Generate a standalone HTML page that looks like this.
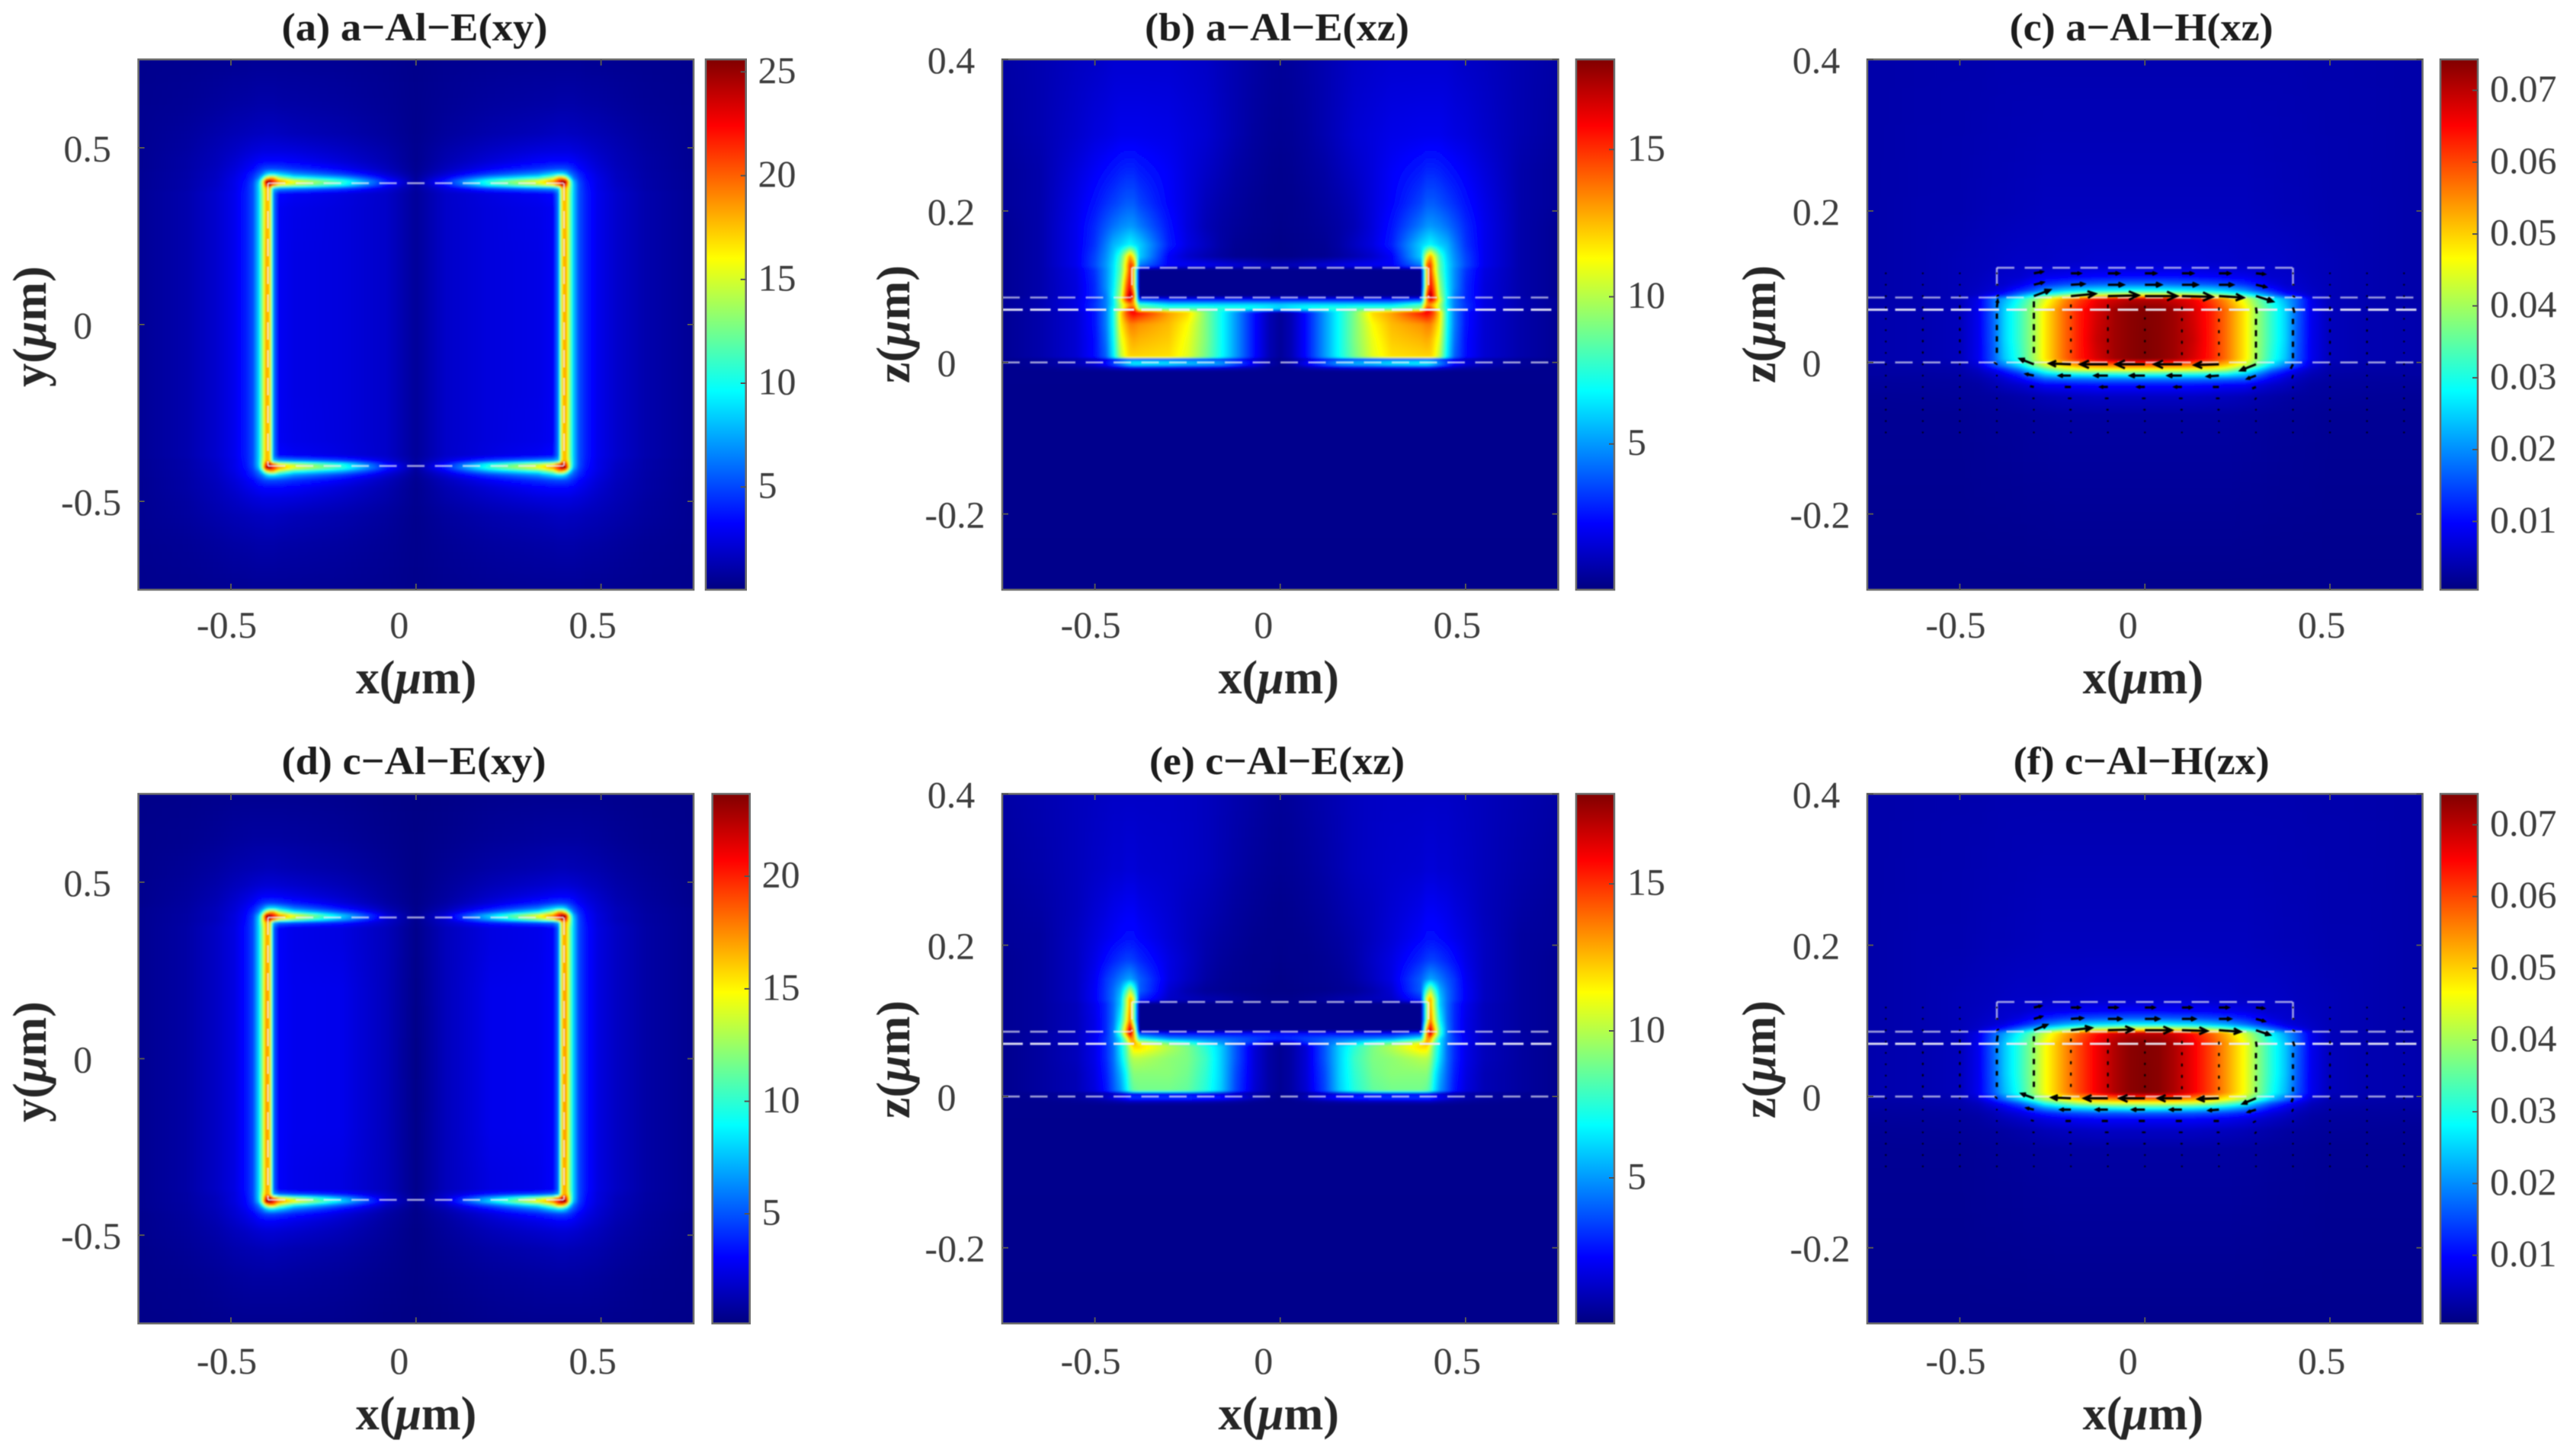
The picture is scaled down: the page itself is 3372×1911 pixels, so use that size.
<!DOCTYPE html>
<html lang="en">
<head>
<meta charset="utf-8">
<title>Field distributions of a-Al and c-Al nanostructures</title>
<style>
html,body{margin:0;padding:0;background:#fff;}
svg{display:block;}
text{font-family:"Liberation Serif","Times New Roman",serif;}
.title{font-weight:bold;font-size:52px;fill:#1c1c1c;text-anchor:middle;}
.axis-title{font-weight:bold;font-size:62px;fill:#262626;text-anchor:middle;}
.axis-title tspan{font-style:italic;}
.tick{font-size:50px;fill:#3c3c3c;}
</style>
</head>
<body>
<svg id="figure" xmlns="http://www.w3.org/2000/svg" width="3372" height="1911" viewBox="0 0 3372 1911">
  <defs id="defs">
    <filter id="blur-field" x="-2%" y="-2%" width="104%" height="104%"><feGaussianBlur stdDeviation="1.2"/></filter>
    <filter id="blur-soft" x="-2%" y="-2%" width="104%" height="104%"><feGaussianBlur stdDeviation="0.8"/></filter>
    <filter id="blur-text" x="-5%" y="-5%" width="110%" height="110%"><feGaussianBlur stdDeviation="0.6"/></filter>
    <linearGradient id="jet-bar" x1="0" y1="1" x2="0" y2="0">
      <stop offset="0" stop-color="#000080"/>
      <stop offset="0.125" stop-color="#0000ff"/>
      <stop offset="0.375" stop-color="#00ffff"/>
      <stop offset="0.625" stop-color="#ffff00"/>
      <stop offset="0.875" stop-color="#ff0000"/>
      <stop offset="1" stop-color="#800000"/>
    </linearGradient>
  </defs>
  <rect x="0" y="0" width="3372" height="1911" fill="#ffffff"/>

  <g id="panel-a"></g>
  <g id="panel-b"></g>
  <g id="panel-c"></g>
  <g id="panel-d"></g>
  <g id="panel-e"></g>
  <g id="panel-f"></g>

  <g filter="url(#blur-text)">
    <text class="title" x="544" y="53" textLength="349" lengthAdjust="spacingAndGlyphs">(a) a−Al−E(xy)</text>
    <text class="title" x="1675.5" y="53" textLength="347" lengthAdjust="spacingAndGlyphs">(b) a−Al−E(xz)</text>
    <text class="title" x="2809.6" y="53" textLength="346" lengthAdjust="spacingAndGlyphs">(c) a−Al−H(xz)</text>
    <text class="title" x="543" y="1016" textLength="347" lengthAdjust="spacingAndGlyphs">(d) c−Al−E(xy)</text>
    <text class="title" x="1675.5" y="1016" textLength="335" lengthAdjust="spacingAndGlyphs">(e) c−Al−E(xz)</text>
    <text class="title" x="2809.6" y="1016" textLength="336" lengthAdjust="spacingAndGlyphs">(f) c−Al−H(zx)</text>

    <text class="axis-title" x="546" y="910">x(<tspan>μ</tspan>m)</text>
    <text class="axis-title" x="1677.7" y="910">x(<tspan>μ</tspan>m)</text>
    <text class="axis-title" x="2811.8" y="910">x(<tspan>μ</tspan>m)</text>
    <text class="axis-title" x="546" y="1876">x(<tspan>μ</tspan>m)</text>
    <text class="axis-title" x="1677.7" y="1876">x(<tspan>μ</tspan>m)</text>
    <text class="axis-title" x="2811.8" y="1876">x(<tspan>μ</tspan>m)</text>

    <text class="axis-title" transform="translate(60,428.6) rotate(-90)">y(<tspan>μ</tspan>m)</text>
    <text class="axis-title" transform="translate(1193,425.6) rotate(-90)">z(<tspan>μ</tspan>m)</text>
    <text class="axis-title" transform="translate(2329,425.6) rotate(-90)">z(<tspan>μ</tspan>m)</text>
    <text class="axis-title" transform="translate(60,1393.6) rotate(-90)">y(<tspan>μ</tspan>m)</text>
    <text class="axis-title" transform="translate(1193,1390.6) rotate(-90)">z(<tspan>μ</tspan>m)</text>
    <text class="axis-title" transform="translate(2329,1390.6) rotate(-90)">z(<tspan>μ</tspan>m)</text>
  </g>
</svg>

<script>
/* ---------- tick values and labels ---------- */
const xTicks = [-0.5, 0, 0.5];
const xTickLabels = ['-0.5', '0', '0.5'];
const yTicksXY = [-0.5, 0, 0.5];
const yTickLabelsXY = ['-0.5', '0', '0.5'];
const zTicksXZ = [-0.2, 0, 0.2, 0.4];
const zTickLabelsXZ = ['-0.2', '0', '0.2', '0.4'];

const cbTicksA = [5, 10, 15, 20, 25];
const cbLabelsA = ['5', '10', '15', '20', '25'];
const cbTicksB = [5, 10, 15];
const cbLabelsB = ['5', '10', '15'];
const cbTicksC = [0.01, 0.02, 0.03, 0.04, 0.05, 0.06, 0.07];
const cbLabelsC = ['0.01', '0.02', '0.03', '0.04', '0.05', '0.06', '0.07'];
const cbTicksD = [5, 10, 15, 20];
const cbLabelsD = ['5', '10', '15', '20'];
const cbTicksE = [5, 10, 15];
const cbLabelsE = ['5', '10', '15'];
const cbTicksF = [0.01, 0.02, 0.03, 0.04, 0.05, 0.06, 0.07];
const cbLabelsF = ['0.01', '0.02', '0.03', '0.04', '0.05', '0.06', '0.07'];

const rangeA = [0.05, 25.6];
const rangeB = [0.05, 18.06];
const rangeC = [0.0005, 0.0743];
const rangeD = [0.13, 23.66];
const rangeE = [0.05, 18.06];
const rangeF = [0.0005, 0.0743];

/* ---------- xy heat maps: x <= 0 columns and y >= 0 rows ---------- */
const heatXYcols = [-0.75,-0.62,-0.54,-0.49,-0.46,-0.44,-0.425,-0.415,-0.405,-0.395,-0.385,-0.37,-0.33,-0.2,-0.08,0];
const heatXYrows = [0.75,0.62,0.54,0.49,0.46,0.44,0.425,0.415,0.405,0.395,0.385,0.37,0.33,0.2,0];

const heatA = [
[.4,.45,.5,.55,.55,.6,.6,.6,.6,.6,.6,.6,.6,.55,.45,.35],
[.45,.6,.8,.95,1,1.05,1.1,1.1,1.1,1.1,1.1,1.05,1,.85,.6,.4],
[.5,.8,1.15,1.4,1.5,1.6,1.65,1.65,1.7,1.7,1.7,1.65,1.5,1.2,.8,.4],
[.5,.9,1.4,1.8,2.1,2.3,2.4,2.5,2.5,2.5,2.5,2.5,2.4,1.8,1.1,.45],
[.5,1,1.5,2.1,2.6,2.9,3.2,3.3,3.4,3.4,3.4,3.4,3.2,2.3,1.3,.45],
[.5,1,1.6,2.3,2.9,3.4,4.2,4.7,5,5.1,5.1,5,4.5,3.1,1.6,.5],
[.55,1.05,1.7,2.5,3.3,4.2,5.5,6.5,8.5,9.5,9.5,8.8,7,4.8,2.2,.6],
[.55,1.05,1.7,2.6,3.4,4.6,6.3,9.5,15,18,18,14,10.5,7.5,3,.7],
[.55,1.1,1.8,2.7,3.6,5,8,14,25,25.5,22,19,16,11,4,.8],
[.55,1.1,1.8,2.7,3.7,5.2,8.5,14,22,25,20,16,14,10,3.6,.8],
[.55,1.1,1.9,2.7,3.8,5.2,8.5,13.5,18,17,8,7,6.5,4.8,2.4,.8],
[.6,1.2,2,2.8,3.9,5.2,8.5,13,18,17,6.5,3.4,3,2.5,1.9,.7],
[.6,1.2,2,2.8,3.9,5.2,8.5,13,18,17,6.5,3,2.7,2.4,1.9,.7],
[.6,1.2,2,2.8,3.9,5.2,8.5,13,18.5,17,6.5,3,2.6,2.4,1.9,.7],
[.6,1.2,2,2.8,3.9,5.2,8.5,13,18.5,17,6.5,3,2.6,2.4,1.9,.7]
];

const heatD = [
[.35,.4,.45,.5,.5,.5,.5,.5,.5,.5,.5,.5,.5,.45,.3,.25],
[.4,.5,.65,.8,.85,.9,.9,.9,.9,.9,.9,.9,.85,.7,.45,.3],
[.4,.65,.9,1.15,1.25,1.3,1.35,1.35,1.4,1.4,1.4,1.35,1.25,1,.6,.3],
[.45,.75,1.1,1.5,1.7,1.9,2,2.05,2.1,2.1,2.1,2.05,1.9,1.4,.75,.3],
[.45,.8,1.25,1.8,2.2,2.5,2.8,2.9,3,3,3,2.9,2.6,1.8,.85,.35],
[.45,.85,1.35,2,2.5,3,3.7,4.2,4.5,4.6,4.6,4.4,3.7,2.3,1,.35],
[.5,.9,1.45,2.1,2.8,3.7,5,6,7.8,8.8,8.8,8,6,3.4,1.3,.4],
[.5,.9,1.5,2.2,3,4.1,5.8,9,14,17,17,13,9,5,1.7,.45],
[.5,.95,1.5,2.3,3.1,4.5,7.5,13,23,23.5,21,18,15,8,2.2,.5],
[.5,.95,1.5,2.3,3.2,4.6,8,13.5,21,23,19,15,12.5,7,2,.5],
[.5,.95,1.6,2.3,3.3,4.7,8,13,17,16,7,5.5,4.8,3.6,1.8,.45],
[.5,1,1.7,2.4,3.4,4.7,8,12,17,16,5.5,3,2.6,2.4,1.5,.4],
[.5,1,1.7,2.4,3.4,4.7,8,12,17,16,5.5,3,2.6,2.4,1.5,.4],
[.5,1,1.7,2.4,3.4,4.7,8,12,17.5,16,5.5,3,2.7,2.6,1.5,.35],
[.5,1,1.7,2.4,3.4,4.7,8,12,17.5,16,5.5,3,2.7,2.6,1.5,.3]
];

/* ---------- xz electric-field heat maps ---------- */
const heatEcols = [-0.75,-0.65,-0.55,-0.5,-0.47,-0.45,-0.43,-0.415,-0.405,-0.395,-0.38,-0.3,-0.25,-0.2,-0.16,-0.12,-0.07,-0.03,0];
const heatErows = [0.4,0.3,0.25,0.21,0.18,0.155,0.14,0.128,0.122,0.1,0.088,0.083,0.076,0.071,0.066,0.05,0.03,0.007,0.0045,0.001,-0.003,-0.007,-0.012,-0.3];

const heatB = [
[.7,.9,1.2,1.3,1.4,1.5,1.5,1.5,1.5,1.5,1.5,1.5,1.4,1.3,1.1,.9,.7,.55,.5],
[.6,.9,1.4,1.7,1.8,1.9,2,2,2,2,2,1.9,1.7,1.5,1.2,.9,.6,.45,.4],
[.5,.8,1.7,2.2,2.5,2.7,2.9,3,3,3,2.8,2.2,1.7,1.3,1,.7,.5,.35,.3],
[.5,.8,1.9,2.6,3.1,3.4,3.7,3.9,3.9,3.9,3.5,2.3,1.7,1.1,.8,.6,.4,.3,.3],
[.4,.8,2,3,3.8,4.3,4.7,4.9,5,4.9,4.5,2.6,1.7,1,.7,.5,.35,.3,.25],
[.4,.8,2,3.2,4.5,5.5,6,6.5,6.8,6.5,6,2.8,1.8,1.2,.7,.4,.3,.25,.2],
[.4,.8,2,3.5,4.8,6,8,11,13,11,6,2.2,1.4,.9,.6,.35,.3,.2,.2],
[.4,.8,2,3.6,5,6.3,8.5,12,15,14,4.5,2.2,2.1,2,1.8,1.6,1.3,1.1,1],
[.4,.8,1.8,3.2,4.8,6.3,8.5,12,15,12,.3,.3,.3,.3,.3,.3,.3,.3,.3],
[.4,.8,1.7,3,4.8,6.5,9.5,14,16,12,.3,.3,.3,.3,.3,.3,.3,.3,.3],
[.4,.8,1.7,3,4.5,6.8,10,15,17.5,15,.3,.3,.3,.3,.3,.3,.3,.3,.3],
[.5,.9,1.8,3,4.5,6.5,11,15,16.5,13,3.2,2.6,2.6,2.6,2.6,2.6,2.6,2.6,2.6],
[.5,.9,1.8,3.2,4.5,6.5,10,12,13,13,8,6.3,6.3,6.3,6.3,6.3,6.3,6.2,6],
[.5,.9,1.8,3.2,4.5,7,10,13,15,15,9,8,8,8,7.5,7.5,7,6.5,6],
[.4,.8,1.5,2.6,4.5,7,12,14.5,15.5,16,15.5,13,12,9,7,5,2.5,1,.5],
[.4,.8,1.5,2.6,4.5,7,11.5,12.8,13.5,13.5,13.2,12.5,11.3,9,7,5,2.5,1,.5],
[.4,.8,1.5,2.5,4.3,6.8,10.8,12,12.6,12.8,12.6,12.2,11,9,7,5,2.5,1,.5],
[.4,.8,1.5,2.5,4,6.5,10,11.5,12,12,12,11.8,10.8,8.8,7,5,2.5,1,.5],
[.3,.5,.9,1.3,1.8,2.4,3,3.2,3.2,3.2,3,3,3,3,2.8,2.4,1.4,.6,.3],
[.3,.5,1,1.6,2.4,3.4,4.5,5.5,6,6.3,6.3,6,5.5,5.2,4.8,3.6,2,.8,.4],
[.3,.5,1,1.6,2.4,3.4,4.5,5.5,6,6.3,6.3,6,5.5,5.2,4.8,3.6,2,.8,.4],
[.3,.4,.6,.8,1,1.3,1.6,1.8,2,2,2,1.9,1.8,1.7,1.5,1.2,.8,.4,.3],
[.3,.3,.3,.3,.3,.3,.3,.3,.3,.3,.3,.3,.3,.3,.3,.3,.3,.3,.3],
[.25,.25,.25,.25,.25,.25,.25,.25,.25,.25,.25,.25,.25,.25,.25,.25,.25,.25,.25]
];

const heatE = [
[.7,.9,1.1,1.2,1.25,1.3,1.3,1.3,1.3,1.3,1.3,1.3,1.25,1.15,1,.85,.7,.55,.5],
[.6,.8,1.1,1.3,1.4,1.5,1.5,1.6,1.6,1.6,1.5,1.4,1.3,1.15,.95,.75,.55,.45,.4],
[.5,.7,1.1,1.5,1.7,1.9,2,2.1,2.1,2.1,1.9,1.5,1.2,1,.8,.6,.45,.35,.3],
[.5,.6,1.2,1.7,2,2.2,2.4,2.5,2.5,2.5,2.3,1.6,1.2,.85,.65,.5,.35,.3,.3],
[.4,.6,1.2,1.9,2.5,2.9,3.2,3.4,3.4,3.3,3,1.8,1.3,.8,.55,.4,.3,.3,.25],
[.4,.6,1.2,2.1,3.2,3.8,4.5,5,5.2,4.8,4,1.8,1.2,.7,.45,.35,.3,.25,.2],
[.4,.6,1.2,2.2,3.3,4.2,5.5,8,10,8,4,1.5,.9,.5,.4,.3,.25,.2,.2],
[.4,.6,1.2,2.2,3.3,4.3,6,10,13,11,3,1.3,1.1,.9,.8,.6,.4,.3,.3],
[.4,.6,1.1,2,3,4.2,6,10,13,9,.3,.3,.3,.3,.3,.3,.3,.3,.3],
[.4,.6,1.1,1.9,3,4.3,7,11,14,9,.3,.3,.3,.3,.3,.3,.3,.3,.3],
[.4,.6,1.1,1.9,3,4.5,8,13,17,13,.3,.3,.3,.3,.3,.3,.3,.3,.3],
[.4,.7,1.2,2,3,4.5,8,13,17,13,3.5,2.5,2.5,2.5,2.5,2.5,2.5,2.5,2.5],
[.4,.7,1.2,2.1,3.2,4.4,6.5,10,13,13,7,5,4.7,4.5,4.3,4,3.5,3.2,3],
[.4,.7,1.2,2.1,3.2,4.4,6.5,9,12,13,11,8.5,7.5,6,5,4,3,1.5,1],
[.3,.6,1.1,1.9,3,4.2,6.5,8.5,10.5,12,12,10,9,7.5,6,3.8,1.6,.7,.4],
[.3,.6,1.1,1.9,3,4.2,6.2,8,9.5,10,10,9.3,9,7.8,6,3.8,1.6,.7,.4],
[.3,.6,1,1.8,2.8,4,5.5,7,8.5,9.2,9.2,9.2,8.8,7.6,6,3.6,1.6,.7,.4],
[.3,.6,1,1.7,2.6,3.8,5,6.5,7.8,8.5,8.8,8.8,8.5,7.4,5.9,3.5,1.5,.7,.4],
[.3,.4,.6,.8,1,1.2,1.4,1.5,1.5,1.5,1.5,1.5,1.5,1.5,1.4,1.2,.7,.4,.3],
[.3,.4,.6,.9,1.2,1.6,2,2.5,2.9,3,3,3,2.9,2.7,2.4,1.8,1,.5,.3],
[.3,.4,.6,.9,1.2,1.6,2,2.5,2.9,3,3,3,2.9,2.7,2.4,1.8,1,.5,.3],
[.3,.3,.4,.5,.6,.7,.8,.9,1,1,1,.9,.9,.8,.7,.6,.4,.3,.3],
[.3,.3,.3,.3,.3,.3,.3,.3,.3,.3,.3,.3,.3,.3,.3,.3,.3,.3,.3],
[.25,.25,.25,.25,.25,.25,.25,.25,.25,.25,.25,.25,.25,.25,.25,.25,.25,.25,.25]
];

/* ---------- xz magnetic-field heat maps ---------- */
const heatHcols = [-0.75,-0.6,-0.5,-0.45,-0.41,-0.38,-0.34,-0.3,-0.27,-0.22,-0.18,-0.13,-0.08,-0.04,0];
const heatHrows = [0.4,0.2,0.135,0.125,0.113,0.103,0.095,0.089,0.084,0.07,0.03,0.005,-0.004,-0.009,-0.015,-0.022,-0.03,-0.045,-0.07,-0.3];

const heatC = [
[.0035,.0037,.0038,.0038,.0039,.004,.004,.004,.004,.004,.004,.004,.004,.004,.004],
[.0035,.004,.004,.0043,.0045,.0045,.0047,.0048,.005,.005,.005,.005,.005,.005,.005],
[.0035,.004,.0045,.0048,.005,.0053,.0055,.0055,.0055,.0058,.0058,.006,.006,.006,.006],
[.0035,.004,.0045,.0048,.0052,.0055,.0058,.006,.0062,.0065,.0068,.007,.007,.007,.007],
[.0035,.004,.0045,.005,.0056,.006,.0062,.0075,.0085,.009,.0095,.01,.0105,.0105,.0105],
[.0035,.004,.0045,.0052,.006,.0062,.008,.011,.013,.015,.016,.017,.0175,.018,.018],
[.0035,.004,.0045,.0055,.0065,.008,.012,.016,.02,.024,.026,.027,.028,.029,.029],
[.0035,.004,.0045,.0058,.009,.012,.019,.026,.031,.036,.04,.043,.045,.046,.046],
[.0035,.004,.0047,.008,.017,.022,.029,.037,.044,.054,.06,.066,.068,.07,.07],
[.0038,.004,.0047,.0085,.017,.025,.032,.04,.048,.057,.063,.068,.072,.0735,.074],
[.0038,.004,.0047,.0085,.0165,.025,.032,.04,.048,.057,.063,.069,.072,.0735,.0743],
[.0038,.004,.0047,.0085,.016,.024,.031,.04,.048,.057,.063,.068,.072,.0735,.0743],
[.0032,.0036,.004,.007,.014,.019,.026,.036,.043,.05,.054,.056,.057,.058,.058],
[.003,.0033,.0036,.0055,.009,.013,.019,.028,.034,.042,.045,.046,.047,.047,.047],
[.003,.003,.0033,.0045,.0065,.009,.013,.02,.025,.029,.03,.031,.031,.032,.032],
[.0027,.0028,.003,.0037,.005,.0065,.009,.013,.016,.017,.0175,.018,.018,.018,.018],
[.0025,.0026,.0027,.003,.004,.005,.006,.0075,.009,.0095,.01,.0105,.0105,.0105,.0105],
[.0022,.0023,.0024,.0026,.0028,.003,.0035,.004,.0045,.005,.0052,.0055,.0055,.0055,.0055],
[.002,.002,.002,.0022,.0023,.0024,.0025,.0027,.0028,.003,.003,.003,.003,.003,.003],
[.0015,.0015,.0015,.0015,.0015,.0015,.0015,.0015,.0015,.0015,.0015,.0015,.0015,.0015,.0015]
];

const heatF = [
[.0035,.0037,.0038,.0038,.0039,.004,.004,.004,.004,.004,.004,.004,.004,.004,.004],
[.0035,.004,.004,.0043,.0045,.0045,.0047,.0048,.005,.005,.005,.005,.005,.005,.005],
[.0035,.004,.0045,.0048,.005,.0053,.0055,.0055,.0055,.0058,.0058,.006,.006,.006,.006],
[.0035,.004,.0045,.0048,.0052,.0055,.0058,.006,.006,.0062,.0064,.0066,.0066,.0066,.0066],
[.0035,.004,.0045,.005,.0055,.006,.006,.007,.0078,.0085,.009,.0092,.0095,.0095,.0095],
[.0035,.004,.0045,.0052,.006,.0062,.0075,.01,.012,.014,.015,.016,.0165,.017,.017],
[.0035,.004,.0045,.0055,.0065,.0078,.011,.015,.018,.022,.024,.026,.027,.028,.028],
[.0035,.004,.0045,.0058,.009,.012,.018,.024,.029,.035,.039,.042,.044,.046,.046],
[.0035,.004,.0047,.008,.016,.021,.028,.036,.043,.052,.058,.064,.068,.07,.07],
[.0038,.004,.0047,.0085,.017,.024,.031,.039,.046,.054,.06,.066,.071,.0735,.074],
[.0038,.004,.0047,.0085,.0165,.024,.031,.039,.046,.054,.06,.066,.071,.0735,.0743],
[.0038,.004,.0047,.0085,.016,.023,.03,.039,.046,.054,.06,.066,.071,.0735,.0743],
[.0032,.0036,.004,.0065,.012,.017,.024,.033,.04,.046,.05,.053,.055,.056,.056],
[.003,.0033,.0036,.005,.008,.011,.016,.023,.03,.036,.04,.043,.044,.044,.044],
[.003,.003,.0033,.0042,.006,.008,.011,.016,.02,.024,.026,.028,.029,.03,.03],
[.0027,.0028,.003,.0035,.0045,.006,.0075,.01,.012,.014,.015,.016,.016,.0165,.0165],
[.0025,.0026,.0027,.003,.0038,.0045,.0055,.0065,.0075,.0085,.009,.0095,.0095,.0095,.0095],
[.0022,.0023,.0024,.0026,.0028,.003,.0035,.004,.0045,.005,.0052,.0055,.0055,.0055,.0055],
[.002,.002,.002,.0022,.0023,.0024,.0025,.0027,.0028,.003,.003,.003,.003,.003,.003],
[.0015,.0015,.0015,.0015,.0015,.0015,.0015,.0015,.0015,.0015,.0015,.0015,.0015,.0015,.0015]
];

/* ---------- quiver fields (arrow components, rows from top) ---------- */
const quiverX = [-0.7,-0.6,-0.5,-0.4,-0.3,-0.2,-0.1,0,0.1,0.2,0.3,0.4,0.5,0.6,0.7];
const quiverZ = [0.1176,0.1026,0.0876,0.0726,0.0576,0.0426,0.0276,0.0126,-0.0024,-0.0174,-0.0324,-0.0474,-0.0624,-0.0774,-0.0924];

const quiverUc = [
[0,0,0,0,11,12,14,14,14,14,11,0,0,0,0],
[0,0,0,1,12,17,20,21,20,18,13,1,0,0,0],
[0,0,0,2,21,32,40,42,40,32,22,2,0,0,0],
[0,0,0,1,0,0,0,0,0,0,1,2,0,0,0],
[0,0,0,0,0,0,0,0,0,0,0,0,0,0,0],
[0,0,0,0,0,0,0,0,0,0,0,0,0,0,0],
[0,0,0,0,0,0,0,0,0,0,0,0,0,0,0],
[0,0,0,0,0,0,0,0,0,0,0,0,0,0,0],
[0,0,0,-3,-18,-28,-36,-38,-36,-32,-20,-3,0,0,0],
[0,0,0,0,-10,-15,-17,-19,-18,-15,-11,-1,0,0,0],
[0,0,0,0,-5,-8,-9,-9,-9,-8,-5,0,0,0,0],
[0,0,0,0,-1,-3,-3,-3,-3,-3,-1,0,0,0,0],
[0,0,0,0,0,-1,-1,-1,-1,-1,0,0,0,0,0],
[0,0,0,0,0,0,0,0,0,0,0,0,0,0,0],
[0,0,0,0,0,0,0,0,0,0,0,0,0,0,0]
];
const quiverWc = [
[0,0,0,0,2,0,0,0,0,0,-1,0,0,0,0],
[0,0,0,0,3,1,0,0,0,0,-3,0,0,0,0],
[0,0,0,1,8,3,1,0,-1,-2,-7,-1,0,0,0],
[0,0,2,9,8,4,3,1,-2,-4,-8,-7,-2,0,0],
[0,1,2,7,8,4,3,1,-2,-4,-8,-7,-2,-1,0],
[0,1,2,7,8,4,3,1,-2,-4,-8,-7,-2,-1,0],
[0,1,2,7,8,4,3,1,-2,-4,-8,-7,-2,-1,0],
[0,1,2,7,8,4,3,1,-2,-4,-8,-7,-2,-1,0],
[0,0,0,2,7,1,0,0,0,-1,-8,-6,0,0,0],
[0,0,0,0,2,0,0,0,0,-1,-4,-3,0,0,0],
[0,0,0,0,1,0,0,0,0,0,-2,-1,0,0,0],
[0,0,0,0,0,0,0,0,0,0,-1,0,0,0,0],
[0,0,0,0,0,0,0,0,0,0,0,0,0,0,0],
[0,0,0,0,0,0,0,0,0,0,0,0,0,0,0],
[0,0,0,0,0,0,0,0,0,0,0,0,0,0,0]
];
const quiverUf = [
[0,0,0,0,9,11,12,12,12,12,10,0,0,0,0],
[0,0,0,1,10,15,17,18,17,15,11,1,0,0,0],
[0,0,0,2,17,27,33,35,33,28,18,2,0,0,0],
[0,0,0,1,0,0,0,0,0,0,1,2,0,0,0],
[0,0,0,0,0,0,0,0,0,0,0,0,0,0,0],
[0,0,0,0,0,0,0,0,0,0,0,0,0,0,0],
[0,0,0,0,0,0,0,0,0,0,0,0,0,0,0],
[0,0,0,0,0,0,0,0,0,0,0,0,0,0,0],
[0,0,0,-2,-16,-25,-31,-33,-31,-27,-17,-2,0,0,0],
[0,0,0,0,-9,-13,-15,-16,-15,-13,-10,-1,0,0,0],
[0,0,0,0,-4,-7,-8,-8,-8,-7,-4,0,0,0,0],
[0,0,0,0,-1,-2,-3,-3,-3,-2,-1,0,0,0,0],
[0,0,0,0,0,-1,-1,-1,-1,-1,0,0,0,0,0],
[0,0,0,0,0,0,0,0,0,0,0,0,0,0,0],
[0,0,0,0,0,0,0,0,0,0,0,0,0,0,0]
];
const quiverWf = [
[0,0,0,0,2,0,0,0,0,0,-1,0,0,0,0],
[0,0,0,0,3,1,0,0,0,0,-3,0,0,0,0],
[0,0,0,1,7,3,1,0,-1,-2,-6,-1,0,0,0],
[0,0,2,8,7,4,3,1,-2,-4,-7,-6,-2,0,0],
[0,1,2,6,7,4,3,1,-2,-4,-7,-6,-2,-1,0],
[0,1,2,6,7,4,3,1,-2,-4,-7,-6,-2,-1,0],
[0,1,2,6,7,4,3,1,-2,-4,-7,-6,-2,-1,0],
[0,1,2,6,7,4,3,1,-2,-4,-7,-6,-2,-1,0],
[0,0,0,2,6,1,0,0,0,-1,-7,-5,0,0,0],
[0,0,0,0,2,0,0,0,0,-1,-3,-2,0,0,0],
[0,0,0,0,1,0,0,0,0,0,-2,-1,0,0,0],
[0,0,0,0,0,0,0,0,0,0,-1,0,0,0,0],
[0,0,0,0,0,0,0,0,0,0,0,0,0,0,0],
[0,0,0,0,0,0,0,0,0,0,0,0,0,0,0],
[0,0,0,0,0,0,0,0,0,0,0,0,0,0,0]
];

/* ---------- structure outlines, in micrometres ---------- */
const interfaceZ = [0.0857, 0.0696, 0];
const antennaZ = [0.125, 0.0857];
const antennaX = [-0.4, 0.4];
const squareXY = [-0.4, 0.4];

/* ---------- rendering ---------- */
const SVGNS = 'http://www.w3.org/2000/svg';
const defs = document.getElementById('defs');
const STRIP = 2;
let gradientCount = 0;

function clamp01(v) { return Math.max(0, Math.min(1, v)); }
function jet(t) {
  const r = clamp01(1.5 - Math.abs(4 * t - 3));
  const g = clamp01(1.5 - Math.abs(4 * t - 2));
  const b = clamp01(1.5 - Math.abs(4 * t - 1));
  return 'rgb(' + Math.round(r * 255) + ',' + Math.round(g * 255) + ',' + Math.round(b * 255) + ')';
}
const JET_KNOTS = [0.125, 0.375, 0.625, 0.875];

function mirrorX(half) { return half.concat(half.slice(0, -1).reverse().map(function (v) { return -v; })); }
function mirrorRow(half) { return half.concat(half.slice(0, -1).reverse()); }
function mirrorY(half) { return half.concat(half.slice(0, -1).reverse().map(function (v) { return -v; })); }
function mirrorRows(rows) { return rows.concat(rows.slice(0, -1).reverse()); }

function makeAxis(domainLo, domainHi, pxLo, pxHi) {
  const f = function (v) { return pxLo + (v - domainLo) / (domainHi - domainLo) * (pxHi - pxLo); };
  f.inv = function (p) { return domainLo + (p - pxLo) / (pxHi - pxLo) * (domainHi - domainLo); };
  return f;
}

function drawHeat(group, box, xs, ys, rows, range, xS, yS) {
  const span = box.R - box.L;
  const offs = xs.map(function (x) { return (xS(x) - box.L) / span; });
  for (let py = box.T; py < box.B; py += STRIP) {
    const yv = yS.inv(py + STRIP / 2);
    let k = 0;
    while (k < ys.length - 2 && yv < ys[k + 1]) k++;
    const f = clamp01((ys[k] - yv) / (ys[k] - ys[k + 1]));
    const ts = rows[k].map(function (v, j) {
      const val = v + (rows[k + 1][j] - v) * f;
      return clamp01((val - range[0]) / (range[1] - range[0]));
    });
    const id = 'heat-strip-' + (gradientCount++);
    const grad = document.createElementNS(SVGNS, 'linearGradient');
    grad.setAttribute('id', id);
    grad.setAttribute('gradientUnits', 'userSpaceOnUse');
    grad.setAttribute('x1', box.L);
    grad.setAttribute('x2', box.R);
    grad.setAttribute('y1', 0);
    grad.setAttribute('y2', 0);
    const addStop = function (o, t) {
      const s = document.createElementNS(SVGNS, 'stop');
      s.setAttribute('offset', o.toFixed(5));
      s.setAttribute('stop-color', jet(t));
      grad.appendChild(s);
    };
    for (let j = 0; j < ts.length; j++) {
      addStop(offs[j], ts[j]);
      if (j < ts.length - 1) {
        const a = ts[j], b = ts[j + 1];
        const knots = a < b ? JET_KNOTS : JET_KNOTS.slice().reverse();
        knots.forEach(function (kn) {
          if ((kn > a && kn < b) || (kn < a && kn > b)) {
            addStop(offs[j] + (offs[j + 1] - offs[j]) * (kn - a) / (b - a), kn);
          }
        });
      }
    }
    defs.appendChild(grad);
    const strip = document.createElementNS(SVGNS, 'rect');
    
    
    strip.setAttribute('x', box.L);
    strip.setAttribute('y', py);
    strip.setAttribute('width', span);
    strip.setAttribute('height', STRIP + 0.4);
    strip.setAttribute('fill', 'url(#' + id + ')');
    group.appendChild(strip);
  }
}

function addTick(group, x1, y1, x2, y2) {
  const el = document.createElementNS(SVGNS, 'line');
  
  
  el.setAttribute('x1', x1);
  el.setAttribute('y1', y1);
  el.setAttribute('x2', x2);
  el.setAttribute('y2', y2);
  el.setAttribute('stroke', '#555555');
  el.setAttribute('stroke-width', 2);
  group.appendChild(el);
}

function addLabel(group, x, y, str, anchor) {
  const el = document.createElementNS(SVGNS, 'text');
  
  
  el.setAttribute('class', 'tick');
  el.setAttribute('x', x);
  el.setAttribute('y', y);
  el.setAttribute('text-anchor', anchor);
  el.setAttribute('filter', 'url(#blur-text)');
  el.textContent = str;
  group.appendChild(el);
}

function addDash(group, x1, y1, x2, y2, strong) {
  const el = document.createElementNS(SVGNS, 'line');
  
  
  el.setAttribute('x1', x1);
  el.setAttribute('y1', y1);
  el.setAttribute('x2', x2);
  el.setAttribute('y2', y2);
  el.setAttribute('stroke', '#eeeef8');
  el.setAttribute('stroke-opacity', strong ? 0.9 : 0.66);
  el.setAttribute('stroke-width', strong ? 3 : 2.6);
  el.setAttribute('stroke-dasharray', strong ? '27 9.5' : '23 13.5');
  group.appendChild(el);
}

function drawQuiver(group, U, W, xS, yS) {
  quiverZ.forEach(function (z, r) {
    quiverX.forEach(function (x, c) {
      const x0 = xS(x), y0 = yS(z);
      const dx = U[r][c], dy = -W[r][c];
      const len = Math.hypot(dx, dy);
      const x1 = x0 + dx, y1 = y0 + dy;
      let d = 'M' + x0 + ' ' + y0 + 'L' + x1 + ' ' + y1;
      if (len >= 9) {
        const bar = Math.max(3.5, 0.34 * len);
        const ang = Math.atan2(dy, dx);
        const a1 = ang + Math.PI - 0.42, a2 = ang + Math.PI + 0.42;
        d += 'M' + (x1 + bar * Math.cos(a1)) + ' ' + (y1 + bar * Math.sin(a1)) + 'L' + x1 + ' ' + y1 +
             'L' + (x1 + bar * Math.cos(a2)) + ' ' + (y1 + bar * Math.sin(a2));
      }
      const el = document.createElementNS(SVGNS, 'path');
      
      
      el.setAttribute('d', d);
      el.setAttribute('fill', 'none');
      el.setAttribute('stroke', '#000000');
      el.setAttribute('stroke-width', len >= 5 ? 3 : 2.2);
      el.setAttribute('stroke-linecap', len >= 4 ? 'butt' : 'round');
      group.appendChild(el);
    });
  });
}

function drawPanel(opt) {
  const root = document.getElementById(opt.id);
  const box = opt.box, cb = opt.cb;
  const xS = makeAxis(-0.75, 0.75, box.L, box.R);
  const yS = makeAxis(opt.yDomain[1], opt.yDomain[0], box.T, box.B);

  const clip = document.createElementNS(SVGNS, 'clipPath');
  clip.setAttribute('id', 'clip-' + opt.id);
  const clipRect = document.createElementNS(SVGNS, 'rect');
  clipRect.setAttribute('x', box.L);
  clipRect.setAttribute('y', box.T);
  clipRect.setAttribute('width', box.R - box.L);
  clipRect.setAttribute('height', box.B - box.T);
  clip.appendChild(clipRect);
  defs.appendChild(clip);

  const plot = document.createElementNS(SVGNS, 'g');
  
  
  plot.setAttribute('clip-path', 'url(#clip-' + opt.id + ')');
  root.appendChild(plot);

  const backing = document.createElementNS(SVGNS, 'rect');
  
  
  backing.setAttribute('x', box.L);
  backing.setAttribute('y', box.T);
  backing.setAttribute('width', box.R - box.L);
  backing.setAttribute('height', box.B - box.T);
  backing.setAttribute('fill', '#00009a');
  plot.appendChild(backing);

  const field = document.createElementNS(SVGNS, 'g');
  
  
  field.setAttribute('filter', 'url(#blur-field)');
  plot.appendChild(field);
  drawHeat(field, box, opt.xs, opt.ys, opt.rows, opt.range, xS, yS);

  const overlay = document.createElementNS(SVGNS, 'g');
  
  
  overlay.setAttribute('filter', 'url(#blur-soft)');
  plot.appendChild(overlay);

  if (opt.kind === 'xy') {
    addDash(overlay, xS(squareXY[0]), yS(squareXY[1]), xS(squareXY[1]), yS(squareXY[1]), false);
    addDash(overlay, xS(squareXY[0]), yS(squareXY[0]), xS(squareXY[1]), yS(squareXY[0]), false);
    addDash(overlay, xS(squareXY[0]), yS(squareXY[1]), xS(squareXY[0]), yS(squareXY[0]), false);
    addDash(overlay, xS(squareXY[1]), yS(squareXY[1]), xS(squareXY[1]), yS(squareXY[0]), false);
  } else {
    addDash(overlay, xS(antennaX[0]), yS(antennaZ[0]), xS(antennaX[1]), yS(antennaZ[0]), false);
    addDash(overlay, xS(antennaX[0]), yS(antennaZ[0]), xS(antennaX[0]), yS(antennaZ[1]), false);
    addDash(overlay, xS(antennaX[1]), yS(antennaZ[0]), xS(antennaX[1]), yS(antennaZ[1]), false);
    interfaceZ.forEach(function (z, i) {
      addDash(overlay, xS(-0.75), yS(z), xS(0.75), yS(z), i === 1);
    });
  }

  if (opt.quiverU) {
    const arrows = document.createElementNS(SVGNS, 'g');
    
    
    arrows.setAttribute('filter', 'url(#blur-soft)');
    plot.appendChild(arrows);
    drawQuiver(arrows, opt.quiverU, opt.quiverW, xS, yS);
  }

  const frame = document.createElementNS(SVGNS, 'rect');
  
  
  frame.setAttribute('x', box.L);
  frame.setAttribute('y', box.T);
  frame.setAttribute('width', box.R - box.L);
  frame.setAttribute('height', box.B - box.T);
  frame.setAttribute('fill', 'none');
  frame.setAttribute('stroke', '#6c6c6c');
  frame.setAttribute('stroke-width', 2.6);
  root.appendChild(frame);

  const TICK = 8;
  xTicks.forEach(function (v, i) {
    addTick(root, xS(v), box.B, xS(v), box.B - TICK);
    addTick(root, xS(v), box.T, xS(v), box.T + TICK);
    addLabel(root, xS(v) + opt.xLabelDx[i], box.B + opt.xLabelGap, xTickLabels[i], 'middle');
  });
  opt.yTicks.forEach(function (v, i) {
    addTick(root, box.L, yS(v), box.L + TICK, yS(v));
    addTick(root, box.R, yS(v), box.R - TICK, yS(v));
    const dx = v === 0 ? -73 : (v < 0 ? -62 : -67);
    addLabel(root, box.L + dx, yS(v) + 18, opt.yLabels[i], 'middle');
  });

  const bar = document.createElementNS(SVGNS, 'rect');
  
  
  bar.setAttribute('x', cb.L);
  bar.setAttribute('y', box.T);
  bar.setAttribute('width', cb.R - cb.L);
  bar.setAttribute('height', box.B - box.T);
  bar.setAttribute('fill', 'url(#jet-bar)');
  bar.setAttribute('stroke', '#6c6c6c');
  bar.setAttribute('stroke-width', 2.6);
  root.appendChild(bar);

  const cS = makeAxis(opt.range[1], opt.range[0], box.T, box.B);
  opt.cbTicks.forEach(function (v, i) {
    addTick(root, cb.R, cS(v), cb.R - 7, cS(v));
    addLabel(root, cb.textX, cS(v) + 14.5, opt.cbLabels[i], 'start');
  });
}

const xLabelOffsets = [-5.5, -22, -11];
const ROW1 = { T: 78, B: 774 };
const ROW2 = { T: 1042, B: 1737 };
const COL1 = { L: 181.6, R: 910 };
const COL2 = { L: 1315, R: 2044.5 };
const COL3 = { L: 2450, R: 3178.5 };

function boxOf(col, row) { return { L: col.L, R: col.R, T: row.T, B: row.B }; }

const xyX = mirrorX(heatXYcols);
const xyY = mirrorY(heatXYrows);
const eX = mirrorX(heatEcols);
const hX = mirrorX(heatHcols);

drawPanel({ id: 'panel-a', kind: 'xy', box: boxOf(COL1, ROW1), cb: { L: 926, R: 978.7, textX: 994.5 },
  yDomain: [-0.75, 0.75], yTicks: yTicksXY, yLabels: yTickLabelsXY, xLabelDx: xLabelOffsets, xLabelGap: 63,
  xs: xyX, ys: xyY, rows: mirrorRows(heatA.map(mirrorRow)), range: rangeA, cbTicks: cbTicksA, cbLabels: cbLabelsA });

drawPanel({ id: 'panel-b', kind: 'xz', box: boxOf(COL2, ROW1), cb: { L: 2068, R: 2118, textX: 2135 },
  yDomain: [-0.3, 0.4], yTicks: zTicksXZ, yLabels: zTickLabelsXZ, xLabelDx: xLabelOffsets, xLabelGap: 63,
  xs: eX, ys: heatErows, rows: heatB.map(mirrorRow), range: rangeB, cbTicks: cbTicksB, cbLabels: cbLabelsB });

drawPanel({ id: 'panel-c', kind: 'xz', box: boxOf(COL3, ROW1), cb: { L: 3202, R: 3251, textX: 3267 },
  yDomain: [-0.3, 0.4], yTicks: zTicksXZ, yLabels: zTickLabelsXZ, xLabelDx: xLabelOffsets, xLabelGap: 63,
  xs: hX, ys: heatHrows, rows: heatC.map(mirrorRow), range: rangeC, cbTicks: cbTicksC, cbLabels: cbLabelsC,
  quiverU: quiverUc, quiverW: quiverWc });

drawPanel({ id: 'panel-d', kind: 'xy', box: boxOf(COL1, ROW2), cb: { L: 934.7, R: 983.7, textX: 999.6 },
  yDomain: [-0.75, 0.75], yTicks: yTicksXY, yLabels: yTickLabelsXY, xLabelDx: xLabelOffsets, xLabelGap: 66,
  xs: xyX, ys: xyY, rows: mirrorRows(heatD.map(mirrorRow)), range: rangeD, cbTicks: cbTicksD, cbLabels: cbLabelsD });

drawPanel({ id: 'panel-e', kind: 'xz', box: boxOf(COL2, ROW2), cb: { L: 2068, R: 2118, textX: 2135 },
  yDomain: [-0.3, 0.4], yTicks: zTicksXZ, yLabels: zTickLabelsXZ, xLabelDx: xLabelOffsets, xLabelGap: 66,
  xs: eX, ys: heatErows, rows: heatE.map(mirrorRow), range: rangeE, cbTicks: cbTicksE, cbLabels: cbLabelsE });

drawPanel({ id: 'panel-f', kind: 'xz', box: boxOf(COL3, ROW2), cb: { L: 3202, R: 3251, textX: 3267 },
  yDomain: [-0.3, 0.4], yTicks: zTicksXZ, yLabels: zTickLabelsXZ, xLabelDx: xLabelOffsets, xLabelGap: 66,
  xs: hX, ys: heatHrows, rows: heatF.map(mirrorRow), range: rangeF, cbTicks: cbTicksF, cbLabels: cbLabelsF,
  quiverU: quiverUf, quiverW: quiverWf });
</script>
</body>
</html>
